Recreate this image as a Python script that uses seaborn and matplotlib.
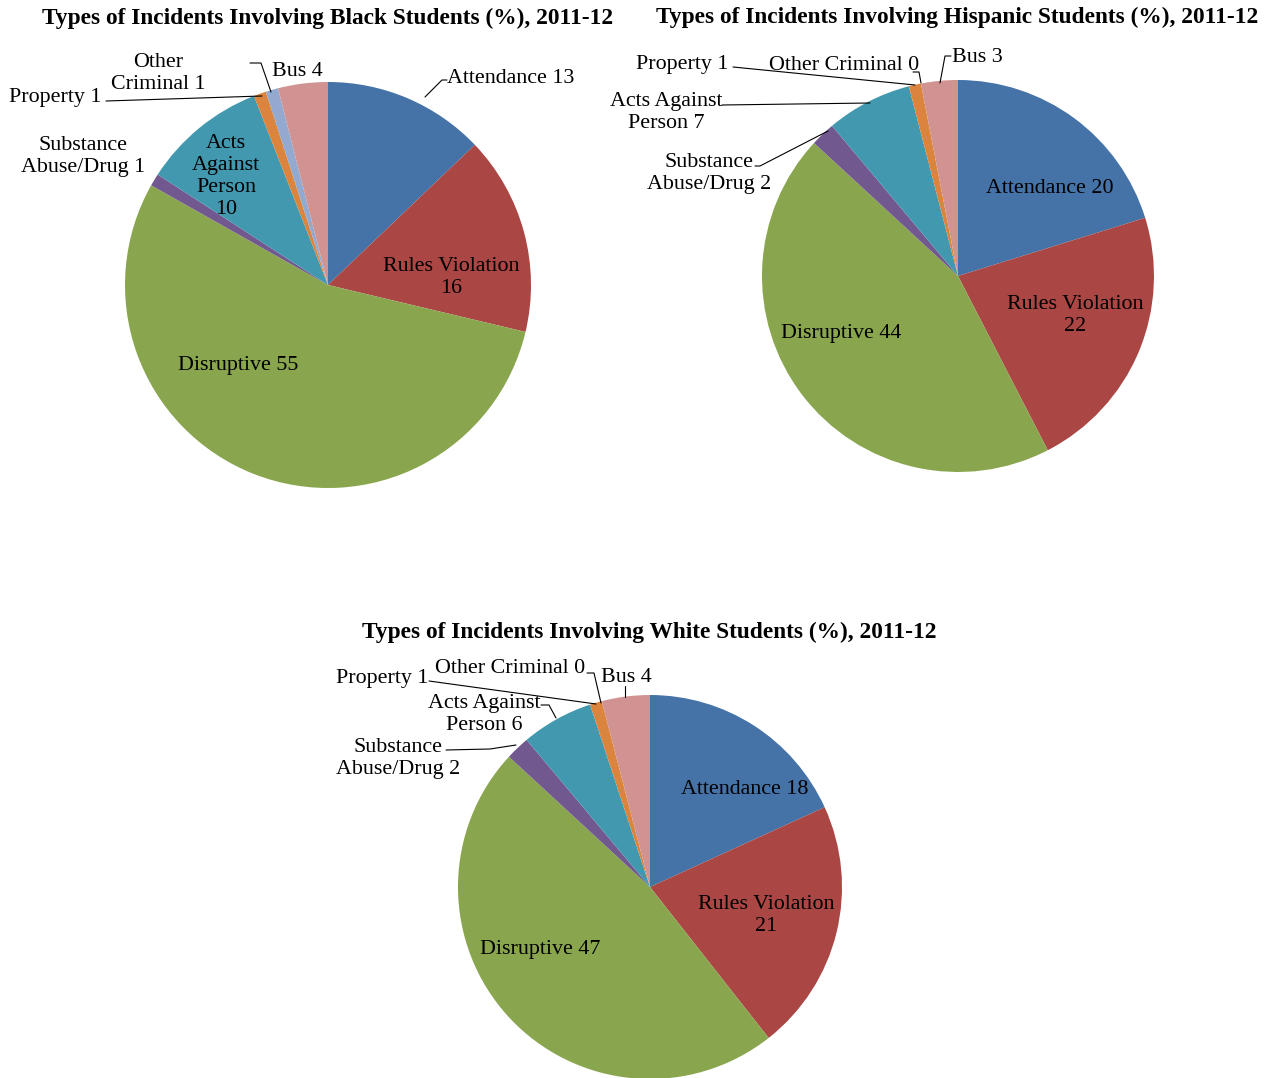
import matplotlib
matplotlib.use("Agg")
import matplotlib.pyplot as plt
import seaborn as sns

sns.set_theme(style="white")
plt.rcParams['font.family'] = ['Liberation Serif', 'DejaVu Serif']
plt.rcParams['text.color'] = 'black'

categories = ["Attendance", "Rules Violation", "Disruptive", "Substance Abuse/Drug",
              "Acts Against Person", "Property", "Other Criminal", "Bus"]
black_values = [13, 16, 55, 1, 10, 1, 1, 4]
hispanic_values = [20, 22, 44, 2, 7, 1, 0, 3]
white_values = [18, 21, 47, 2, 6, 1, 0, 4]
titles = ["Types of Incidents Involving Black Students (%), 2011-12",
          "Types of Incidents Involving Hispanic Students (%), 2011-12",
          "Types of Incidents Involving White Students (%), 2011-12"]

palette = sns.color_palette(["#4572A7", "#AA4643", "#89A54E", "#71588F",
                             "#4198AF", "#DB843D", "#93A9CF", "#D19392"])

W, H = 1272, 1078
fig = plt.figure(figsize=(W / 100, H / 100), dpi=100)

LS = 15.8
TS = 16.8
DY = 2.5  # small vertical nudge (px) for labels

def make_ax(cx, cy, r):
    return fig.add_axes([(cx - r) / W, (H - cy - r) / H, 2 * r / W, 2 * r / H])

def draw_pie(ax, values):
    ax.pie(values, colors=palette, startangle=90, counterclock=False, radius=1,
           wedgeprops=dict(linewidth=0))
    ax.set_xlim(-1, 1)
    ax.set_ylim(-1, 1)
    ax.set_aspect('equal')
    ax.axis('off')

def P(cx, cy, r):
    return lambda x, y: ((x - cx) / r, (cy - y) / r)

def lab(ax, txt, xy, r):
    ax.text(xy[0], xy[1] - DY / r, txt, ha='center', va='center', fontsize=LS,
            linespacing=1.22, clip_on=False, color='black')

def leader(ax, pts):
    xs = [p[0] for p in pts]
    ys = [p[1] for p in pts]
    ax.plot(xs, ys, color='black', lw=0.8, clip_on=False)

def title(x, y, s):
    fig.text(x / W, 1 - y / H, s, ha='center', va='center',
             fontsize=TS, fontweight='bold', color='black')

# ---------- Black ----------
cx, cy, r = 328, 285, 203
p = P(cx, cy, r)
ax1 = make_ax(cx, cy, r)
draw_pie(ax1, black_values)
title(328, 18, titles[0])
lab(ax1, f"Attendance {black_values[0]}", p(511, 76), r)
leader(ax1, [p(447, 80), p(442, 80), p(425, 97)])
lab(ax1, f"Rules Violation\n{black_values[1]}", p(451, 275), r)
lab(ax1, f"Disruptive {black_values[2]}", p(238, 363), r)
lab(ax1, f"Acts\nAgainst\nPerson\n{black_values[4]}", p(226, 174), r)
lab(ax1, f"Substance\nAbuse/Drug {black_values[3]}", p(83, 154), r)
lab(ax1, f"Property {black_values[5]}", p(55, 95), r)
leader(ax1, [p(106, 101), p(262, 96)])
lab(ax1, f"Other\nCriminal {black_values[6]}", p(158, 71), r)
leader(ax1, [p(250, 63), p(261, 63), p(271, 92)])
lab(ax1, f"Bus {black_values[7]}", p(297, 69), r)

# ---------- Hispanic ----------
cx, cy, r = 958, 276, 196
p = P(cx, cy, r)
ax2 = make_ax(cx, cy, r)
draw_pie(ax2, hispanic_values)
title(957, 17, titles[1])
lab(ax2, f"Attendance {hispanic_values[0]}", p(1050, 186), r)
lab(ax2, f"Rules Violation\n{hispanic_values[1]}", p(1075, 313), r)
lab(ax2, f"Disruptive {hispanic_values[2]}", p(841, 331), r)
lab(ax2, f"Substance\nAbuse/Drug {hispanic_values[3]}", p(709, 171), r)
leader(ax2, [p(755, 166), p(760, 166), p(828, 131)])
lab(ax2, f"Acts Against\nPerson {hispanic_values[4]}", p(666, 110), r)
leader(ax2, [p(722, 105), p(870, 103)])
lab(ax2, f"Property {hispanic_values[5]}", p(682, 62), r)
leader(ax2, [p(733, 67), p(915, 85)])
lab(ax2, f"Other Criminal {hispanic_values[6]}", p(844, 63), r)
leader(ax2, [p(913, 72), p(919, 72), p(921, 83)])
lab(ax2, f"Bus {hispanic_values[7]}", p(977, 55), r)
leader(ax2, [p(951, 56), p(945, 56), p(940, 83)])

# ---------- White ----------
cx, cy, r = 650, 887, 192
p = P(cx, cy, r)
ax3 = make_ax(cx, cy, r)
draw_pie(ax3, white_values)
title(649, 632, titles[2])
lab(ax3, f"Attendance {white_values[0]}", p(745, 787), r)
lab(ax3, f"Rules Violation\n{white_values[1]}", p(766, 913), r)
lab(ax3, f"Disruptive {white_values[2]}", p(540, 947), r)
lab(ax3, f"Substance\nAbuse/Drug {white_values[3]}", p(398, 756), r)
leader(ax3, [p(446, 750), p(490, 749), p(516, 745)])
lab(ax3, f"Acts Against\nPerson {white_values[4]}", p(484, 712), r)
leader(ax3, [p(541, 705), p(549, 705), p(556, 718)])
lab(ax3, f"Property {white_values[5]}", p(382, 676), r)
leader(ax3, [p(429, 681), p(596, 704)])
lab(ax3, f"Other Criminal {white_values[6]}", p(510, 666), r)
leader(ax3, [p(587, 673), p(594, 673), p(601, 703)])
lab(ax3, f"Bus {white_values[7]}", p(626, 675), r)
leader(ax3, [p(625, 686), p(625, 697)])

fig.savefig("out.png", dpi=100, facecolor='white')
